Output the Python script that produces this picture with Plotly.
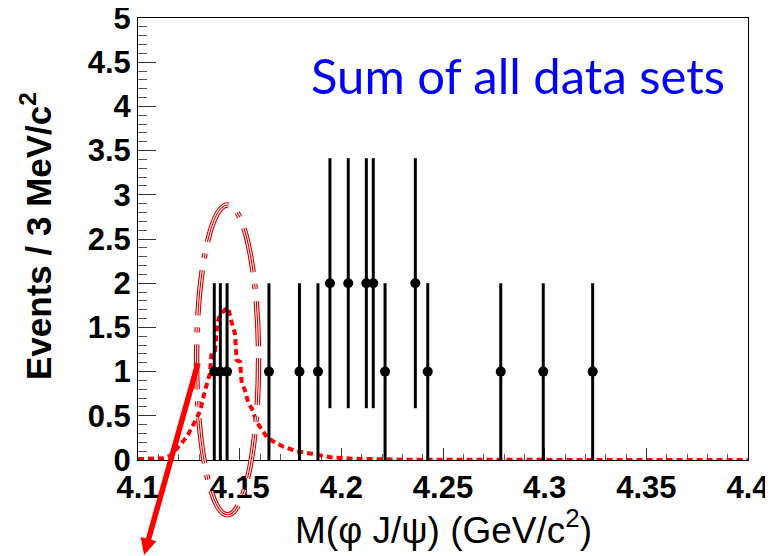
import numpy as np
import plotly.graph_objects as go

# ---------------- data ----------------
data_x = [4.1375, 4.1405, 4.1438, 4.1644, 4.1794, 4.1885, 4.1944, 4.2034,
          4.2123, 4.2157, 4.2215, 4.2364, 4.2425, 4.2784, 4.2993, 4.3236]
data_y = [1, 1, 1, 1, 1, 1, 2, 2, 2, 2, 1, 2, 1, 1, 1, 1]
data_err = list(np.sqrt(data_y))

mc_x = [4.100, 4.105, 4.110, 4.1125, 4.116, 4.120, 4.124, 4.1272, 4.1305, 4.133,
        4.1354, 4.1362, 4.1379, 4.139, 4.1403, 4.1428, 4.1444, 4.146, 4.1477,
        4.1485, 4.1502, 4.151, 4.1526, 4.1543, 4.156, 4.1584, 4.1608, 4.1633,
        4.1666, 4.1715, 4.178, 4.183, 4.190, 4.195, 4.205, 4.215, 4.230, 4.260,
        4.300, 4.350, 4.400]
mc_y = [0.01, 0.01, 0.015, 0.02, 0.05, 0.15, 0.26, 0.40, 0.55, 0.79,
        0.98, 1.22, 1.24, 1.55, 1.64, 1.70, 1.72, 1.56, 1.43,
        1.13, 1.11, 0.87, 0.79, 0.64, 0.58, 0.43, 0.34, 0.26,
        0.21, 0.15, 0.10, 0.08, 0.05, 0.03, 0.015, 0.008, 0.004, 0.002,
        0.001, 0.0, 0.0]

x_tickvals = [4.1, 4.15, 4.2, 4.25, 4.3, 4.35, 4.4]
x_ticktext = ["4.1", "4.15", "4.2", "4.25", "4.3", "4.35", "4.4"]
y_tickvals = [0, 0.5, 1, 1.5, 2, 2.5, 3, 3.5, 4, 4.5, 5]
y_ticktext = ["0", "0.5", "1", "1.5", "2", "2.5", "3", "3.5", "4", "4.5", "5"]

# highlighted region (ellipse) and arrow, in data units
ell_x = [4.1288, 4.1593]
ell_y = [-0.62, 2.885]
arrow_tail = (4.1297, 1.112)
arrow_head = (4.103, -1.13)

X_RANGE = [4.1, 4.4]
Y_RANGE = [0, 5]

# ---------------- layout geometry ----------------
# the page body has an 8px margin, so the figure is drawn 8px in from the corner
OFF = 8
WIN_W, WIN_H = 773, 556
W, H = WIN_W - OFF, WIN_H - OFF
PLOT_L, PLOT_R, PLOT_T, PLOT_B = 138, 748, 18, 460   # in window pixels
ML = PLOT_L - OFF
MT = PLOT_T - OFF
MR = WIN_W - PLOT_R
MB = WIN_H - PLOT_B
PW = W - ML - MR
PH = H - MT - MB


def px_x(v):
    return (v - X_RANGE[0]) / (X_RANGE[1] - X_RANGE[0])


def px_y(v):
    return (v - Y_RANGE[0]) / (Y_RANGE[1] - Y_RANGE[0])


def win2paper_x(p):
    return (p - PLOT_L) / PW


def win2paper_y(p):
    return (PLOT_B - p) / PH


FONT = "Liberation Sans, Arial, Helvetica, sans-serif"

fig = go.Figure()

fig.add_trace(go.Scatter(
    x=mc_x, y=mc_y, mode="lines",
    line=dict(color="#ff0000", width=4, dash="6px,4px"),
    cliponaxis=False, hoverinfo="skip", showlegend=False,
))

fig.add_trace(go.Scatter(
    x=data_x, y=data_y, mode="markers",
    marker=dict(color="black", size=10),
    error_y=dict(type="data", array=data_err, visible=True,
                 color="black", thickness=3, width=0),
    cliponaxis=False, showlegend=False,
))

# ellipse: triple-line look (red / white / red)
ex0, ex1 = px_x(ell_x[0]), px_x(ell_x[1])
ey0, ey1 = px_y(ell_y[0]), px_y(ell_y[1])
dash_pat = "45px,12px,5px,12px"
for col, wid in [("#dd0000", 5.5), ("white", 3.2), ("#dd0000", 1.1)]:
    fig.add_shape(type="circle", xref="paper", yref="paper",
                  x0=ex0, x1=ex1, y0=ey0, y1=ey1,
                  line=dict(color=col, width=wid, dash=dash_pat),
                  layer="above")

# arrow
hx, hy = px_x(arrow_head[0]), px_y(arrow_head[1])
ax_pix = (arrow_tail[0] - arrow_head[0]) / (X_RANGE[1] - X_RANGE[0]) * PW
ay_pix = -(arrow_tail[1] - arrow_head[1]) / (Y_RANGE[1] - Y_RANGE[0]) * PH
fig.add_annotation(x=hx, y=hy, xref="paper", yref="paper",
                   ax=ax_pix, ay=ay_pix, axref="pixel", ayref="pixel",
                   text="", showarrow=True, arrowcolor="#ff0000",
                   arrowwidth=5.5, arrowhead=2, arrowsize=0.6, standoff=0,
                   startstandoff=0)

# texts
fig.add_annotation(x=win2paper_x(727), y=win2paper_y(75), xref="paper", yref="paper",
                   text="Sum of all data sets", showarrow=False,
                   xanchor="right", yanchor="middle",
                   font=dict(family="Lato, Noto Sans, sans-serif", size=49, color="#0000ff"))

fig.add_annotation(x=win2paper_x(36), y=win2paper_y(236), xref="paper", yref="paper",
                   text="Events / 3 MeV/c<sup>2</sup>", showarrow=False, textangle=-90,
                   xanchor="center", yanchor="middle",
                   font=dict(family=FONT, size=35, color="black", weight="bold"))

fig.add_annotation(x=0.5, y=win2paper_y(527), xref="paper", yref="paper",
                   text="M(\u03c6 J/\u03c8) (GeV/c<sup>2</sup>)", showarrow=False,
                   xanchor="center", yanchor="middle",
                   font=dict(family=FONT, size=37, color="black"))

fig.update_layout(
    width=W, height=H,
    margin=dict(l=ML, r=MR, t=MT, b=MB, pad=0, autoexpand=False),
    paper_bgcolor="white", plot_bgcolor="white",
    showlegend=False,
)

fig.update_xaxes(
    range=X_RANGE, tickvals=x_tickvals, ticktext=x_ticktext,
    ticks="inside", ticklen=12, tickwidth=1, tickcolor="#333",
    minor=dict(ticks="inside", ticklen=6, dtick=0.01, tickcolor="#555", tickwidth=1),
    showline=True, linecolor="black", linewidth=1, mirror=True,
    showgrid=False, zeroline=False, automargin=False,
    ticklabeloverflow="allow",
    tickfont=dict(family=FONT, size=31, color="black", weight="bold"),
    layer="below traces",
)
fig.update_yaxes(
    range=Y_RANGE, tickvals=y_tickvals, ticktext=y_ticktext,
    ticks="inside", ticklen=18, tickwidth=1, tickcolor="#333",
    minor=dict(ticks="inside", ticklen=9, dtick=0.1, tickcolor="#555", tickwidth=1),
    showline=True, linecolor="black", linewidth=1, mirror=True,
    showgrid=False, zeroline=False, automargin=False,
    ticklabeloverflow="allow",
    tickfont=dict(family=FONT, size=31, color="black", weight="bold"),
    layer="below traces",
)

fig.write_html("out.html")
